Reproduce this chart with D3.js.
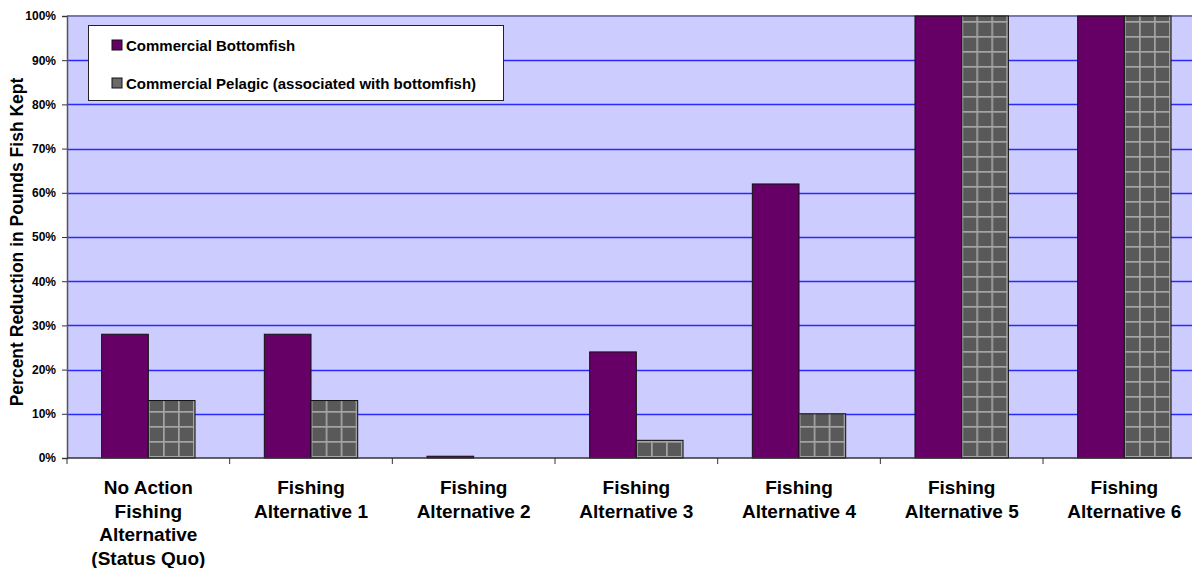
<!DOCTYPE html>
<html>
<head>
<meta charset="utf-8">
<script src="https://cdn.jsdelivr.net/npm/d3@7"></script>
<style>
  body { margin: 0; background: #fff; }
  text { font-family: "Liberation Sans", Arial, sans-serif; font-weight: bold; fill: #000; }
</style>
</head>
<body>
<div id="chart"></div>
<script>
// data
var categories = [
  ["No Action", "Fishing", "Alternative", "(Status Quo)"],
  ["Fishing", "Alternative 1"],
  ["Fishing", "Alternative 2"],
  ["Fishing", "Alternative 3"],
  ["Fishing", "Alternative 4"],
  ["Fishing", "Alternative 5"],
  ["Fishing", "Alternative 6"]
];
var seriesNames = ["Commercial Bottomfish", "Commercial Pelagic (associated with bottomfish)"];
var bottomfish = [0.28, 0.28, 0.004, 0.24, 0.62, 1.00, 1.00];
var pelagic    = [0.13, 0.13, 0.0,   0.04, 0.10, 1.00, 1.00];
var yTicks = [0, 0.1, 0.2, 0.3, 0.4, 0.5, 0.6, 0.7, 0.8, 0.9, 1.0];

var W = 1192, H = 568;
var margin = {top: 16, left: 67, bottom: 110};
var plotH = H - margin.top - margin.bottom;
var step = 162.67;   // the last category runs past the right edge

var svg = d3.select("#chart").append("svg")
    .attr("width", W).attr("height", H);

var defs = svg.append("defs");
var pat = defs.append("pattern")
    .attr("id", "grid")
    .attr("patternUnits", "userSpaceOnUse")
    .attr("width", 15).attr("height", 15);
pat.append("rect").attr("width", 15).attr("height", 15).attr("fill", "#595959");
pat.append("rect").attr("x", 6).attr("y", 0).attr("width", 1.7).attr("height", 15).attr("fill", "#a4a4a4");
pat.append("rect").attr("x", 0).attr("y", 6).attr("width", 15).attr("height", 1.7).attr("fill", "#a4a4a4");

var idx = d3.range(categories.length);
var x0 = d3.scaleBand()
    .domain(idx)
    .range([margin.left, margin.left + step * categories.length])
    .padding(0);

var x1 = d3.scaleBand()
    .domain([0, 1])
    .range([0, x0.bandwidth()])
    .paddingInner(0)
    .paddingOuter(0.742);

var y = d3.scaleLinear()
    .domain([0, 1])
    .range([margin.top + plotH, margin.top]);

// plot background
svg.append("rect")
    .attr("x", margin.left).attr("y", y(1))
    .attr("width", W - margin.left).attr("height", y(0) - y(1))
    .attr("fill", "#ccccff");

// gridlines
svg.append("g").selectAll("line")
  .data(yTicks.filter(function(d) { return d > 0 && d < 1; }))
  .enter().append("line")
    .attr("x1", margin.left).attr("x2", W)
    .attr("y1", function(d) { return Math.round(y(d)) + 0.5; })
    .attr("y2", function(d) { return Math.round(y(d)) + 0.5; })
    .attr("stroke", "#2a2aff")
    .attr("stroke-width", 1.3);

// top border
svg.append("line")
    .attr("x1", margin.left).attr("x2", W)
    .attr("y1", y(1)).attr("y2", y(1))
    .attr("stroke", "#7878b8").attr("stroke-width", 2);

// bars
var series = [bottomfish, pelagic];
var fills = ["#660066", "url(#grid)"];
var groups = svg.append("g").selectAll("g")
  .data(idx)
  .enter().append("g")
    .attr("transform", function(i) { return "translate(" + x0(i) + ",0)"; });

groups.selectAll("rect")
  .data(function(i) { return series.map(function(s, k) { return {k: k, v: s[i]}; }); })
  .enter().append("rect")
    .filter(function(d) { return d.v > 0; })
    .attr("x", function(d) { return x1(d.k); })
    .attr("width", x1.bandwidth())
    .attr("y", function(d) { return y(d.v); })
    .attr("height", function(d) { return y(0) - y(d.v); })
    .attr("fill", function(d) { return fills[d.k]; })
    .attr("stroke", "#111")
    .attr("stroke-width", 1);

// y axis
var yAxis = svg.append("g")
    .attr("transform", "translate(" + margin.left + ",0)")
    .call(d3.axisLeft(y).tickValues(yTicks).tickFormat(d3.format(".0%")).tickSize(5).tickPadding(6));
yAxis.select(".domain").attr("stroke", "#555").attr("stroke-width", 1.5);
yAxis.selectAll(".tick line").attr("stroke", "#333");
yAxis.selectAll("text").style("font-size", "12px");

// x axis line and boundary ticks
svg.append("line")
    .attr("x1", margin.left).attr("x2", W)
    .attr("y1", y(0)).attr("y2", y(0))
    .attr("stroke", "#333").attr("stroke-width", 1.5);
svg.append("g").selectAll("line")
  .data(idx.concat([categories.length]))
  .enter().append("line")
    .attr("x1", function(i) { return margin.left + i * x0.step(); })
    .attr("x2", function(i) { return margin.left + i * x0.step(); })
    .attr("y1", y(0)).attr("y2", y(0) + 6)
    .attr("stroke", "#333");

// category labels
var labels = svg.append("g").selectAll("text")
  .data(idx)
  .enter().append("text")
    .attr("x", function(i) { return x0(i) + x0.bandwidth() / 2; })
    .attr("y", y(0) + 36)
    .attr("text-anchor", "middle")
    .style("font-size", "19px");
labels.selectAll("tspan")
  .data(function(i) { return categories[i]; })
  .enter().append("tspan")
    .attr("x", function() { return d3.select(this.parentNode).attr("x"); })
    .attr("dy", function(d, j) { return j === 0 ? 0 : 23.5; })
    .text(function(d) { return d; });

// y title
svg.append("text")
    .attr("transform", "translate(23," + (margin.top + plotH / 2 + 5) + ") rotate(-90)")
    .attr("text-anchor", "middle")
    .style("font-size", "17.5px")
    .text("Percent Reduction in Pounds Fish Kept");

// legend
var legend = svg.append("g").attr("transform", "translate(88,25)");
legend.append("rect")
    .attr("x", 0.5).attr("y", 0.5)
    .attr("width", 415).attr("height", 75)
    .attr("fill", "#fff").attr("stroke", "#222");
var item = legend.selectAll("g.item")
  .data(seriesNames)
  .enter().append("g")
    .attr("class", "item")
    .attr("transform", function(d, k) { return "translate(24," + (15 + k * 38) + ")"; });
item.append("rect")
    .attr("width", 10).attr("height", 10)
    .attr("fill", function(d, k) { return k === 0 ? "#660066" : "#6a6a6a"; })
    .attr("stroke", "#111");
item.append("text")
    .attr("x", 14).attr("y", 10.5)
    .style("font-size", "15px")
    .text(function(d) { return d; });
</script>
</body>
</html>
